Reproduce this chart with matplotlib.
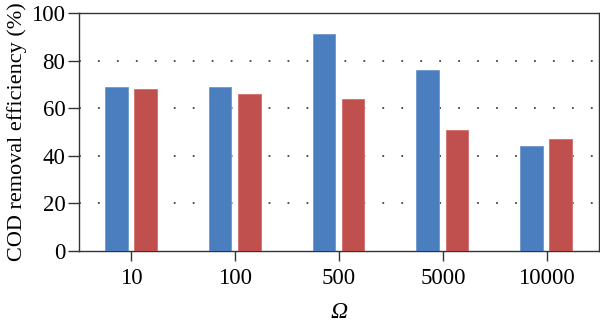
import matplotlib
matplotlib.use("Agg")
import matplotlib.pyplot as plt
import numpy as np

categories = ["10", "100", "500", "5000", "10000"]
series_a = [69, 69, 91, 76, 44]
series_b = [68, 66, 64, 51, 47]

plt.rcParams['font.family'] = ['Liberation Serif', 'DejaVu Serif']

fig = plt.figure(figsize=(6, 3.25), dpi=100)
ax = fig.add_axes([0.132, 0.228, 0.866, 0.732])

x = np.arange(len(categories))
w = 0.22
ax.bar(x - 0.145, series_a, width=w, color='#4a7ebf', edgecolor='#6e98cf', linewidth=0.6, zorder=3)
ax.bar(x + 0.135, series_b, width=w, color='#c0504d', edgecolor='#d06e6b', linewidth=0.6, zorder=3)

ax.set_xlim(-0.5, len(categories) - 0.5)
ax.set_ylim(0, 100)
ax.set_yticks([0, 20, 40, 60, 80, 100])
ax.set_xticks(x)
ax.set_xticklabels(categories)
ax.tick_params(axis='both', labelsize=16.5, direction='out', width=1, color='#333333')
ax.tick_params(axis='y', length=8, pad=2)
ax.tick_params(axis='x', length=7, pad=5)

# dotted guide lines only at the inner ticks
for yv in [20, 40, 60, 80]:
    ax.axhline(yv, linestyle=(0, (1, 9.5)), linewidth=1.3, color='#444444', zorder=0)

for s in ax.spines.values():
    s.set_linewidth(1)
    s.set_color('#333333')

ax.set_ylabel("COD removal efficiency (%)", fontsize=16, labelpad=3)
ax.set_xlabel("Ω", fontsize=17, fontstyle='italic', labelpad=10)

fig.savefig("out.png", dpi=100)
